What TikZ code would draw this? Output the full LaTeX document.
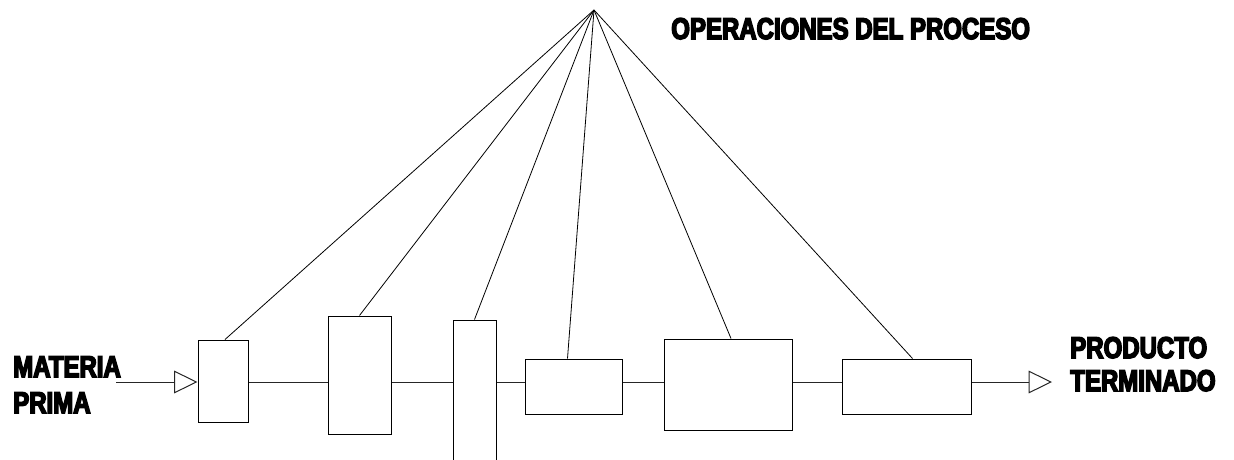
\documentclass[tikz,border=0pt]{standalone}
\usepackage{fontspec}
\newfontfamily\flowfont[FakeStretch=0.8,FakeBold=5]{Liberation Sans Bold}
\usetikzlibrary{arrows.meta}
\tikzset{
  opbox/.style={draw,line width=0.75pt,inner sep=0pt},
  flowline/.style={line width=0.75pt,black!85},
  tag/.style={font=\flowfont\fontsize{22.5}{26}\selectfont,inner sep=0pt,anchor=base west}
}
\begin{document}
\begin{tikzpicture}[x=0.75pt,y=-0.75pt,line join=miter]
    \useasboundingbox (0,0) rectangle (1234,460);
    \clip (0,0) rectangle (1234,460);

    % process operations (boxes)
    \node[opbox,minimum width=37.5pt,minimum height=61.5pt]   (op1) at (223,381)   {};
    \node[opbox,minimum width=47.25pt,minimum height=88.5pt]  (op2) at (359.5,375) {};
    \node[opbox,minimum width=32.25pt,minimum height=112.5pt] (op3) at (474.5,395) {};
    \node[opbox,minimum width=72.75pt,minimum height=41.25pt] (op4) at (573.5,386.5) {};
    \node[opbox,minimum width=96pt,minimum height=68.25pt]    (op5) at (728,384.5) {};
    \node[opbox,minimum width=96.75pt,minimum height=41.25pt] (op6) at (906.5,386.5) {};

    % main flow line
    \coordinate (flow) at (0,382);
    \coordinate (src) at (116,382);
    \coordinate (snk) at (1052,382);
    \draw[flowline,-{Triangle[open,length=17.5pt,width=17pt,line width=0.75pt]}] (src) -- (op1.west |- flow);
    \foreach \a/\b in {op1/op2,op2/op3,op3/op4,op4/op5,op5/op6}
      \draw[flowline] (\a.east |- flow) -- (\b.west |- flow);
    \draw[flowline,-{Triangle[open,length=17.5pt,width=17pt,line width=0.75pt]}] (op6.east |- flow) -- (snk);

    % leader lines to the operations
    \coordinate (apex) at (594,10);
    \draw[line width=0.6pt] (apex) -- ([xshift=1.5pt]op1.north);
    \draw[line width=0.6pt] (apex) -- (op2.north);
    \draw[line width=0.6pt] (apex) -- (op3.north);
    \draw[line width=0.6pt] (apex) -- ([xshift=-4.5pt]op4.north);
    \draw[line width=0.6pt] (apex) -- ([xshift=2.25pt]op5.north);
    \draw[line width=0.6pt] (apex) -- ([xshift=4.5pt]op6.north);

    % labels
    \node[tag] (ops)  at (671,39)  {OPERACIONES DEL PROCESO};
    \node[tag] (mat1) at (13,377)  {MATERIA};
    \node[tag] (mat2) at (13,413)  {PRIMA};
    \node[tag] (prd1) at (1070,358) {PRODUCTO};
    \node[tag] (prd2) at (1070,391) {TERMINADO};
\end{tikzpicture}
\end{document}
